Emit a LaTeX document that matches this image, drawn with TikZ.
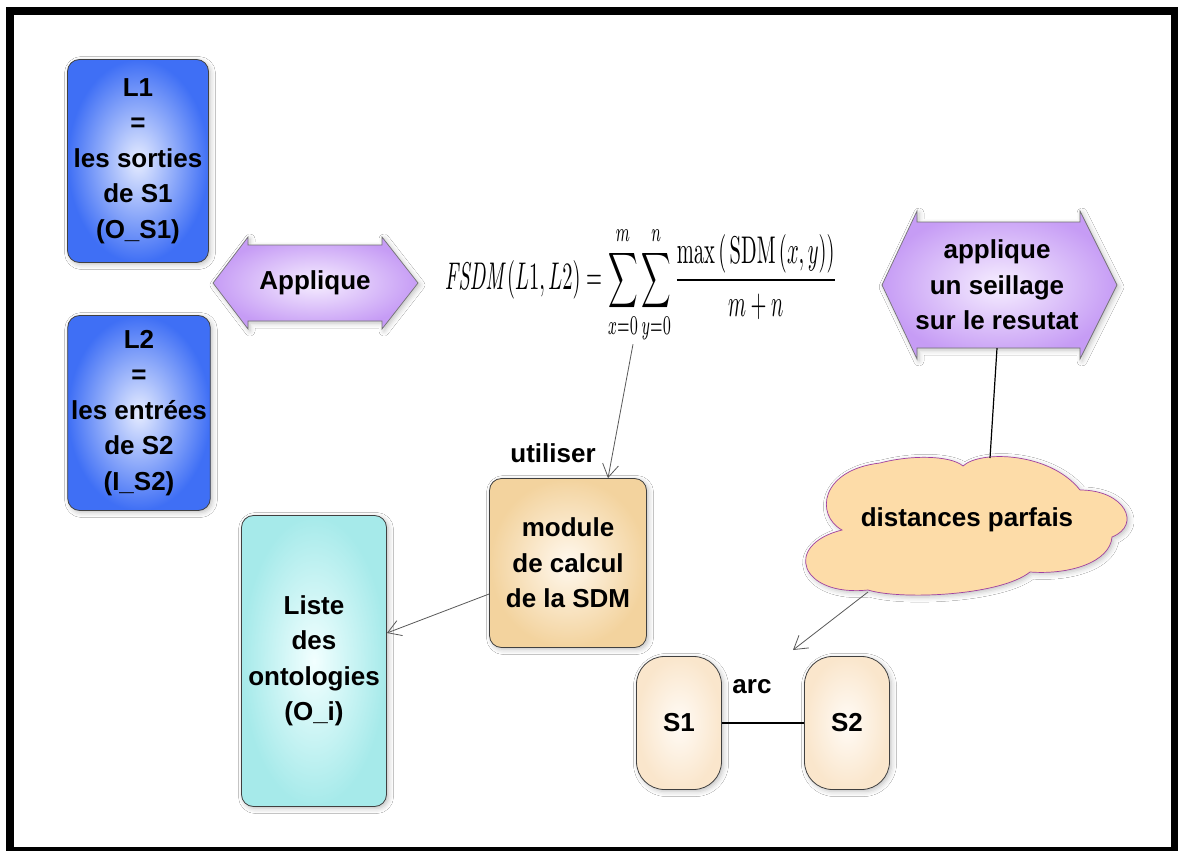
\documentclass[tikz,border=0pt]{standalone}
\usepackage[no-math]{fontspec}
\setmainfont{Liberation Sans}
\usepackage{amsmath}
\usepackage{graphicx}
\usetikzlibrary{shapes.symbols,arrows.meta,calc,shadows.blur}
\definecolor{blueout}{HTML}{3F6FF5}
\definecolor{bluein}{HTML}{E6ECFF}
\definecolor{purpout}{HTML}{C69CF5}
\definecolor{purpin}{HTML}{F6EEFF}
\definecolor{modout}{HTML}{F3D39E}
\definecolor{modin}{HTML}{FFF8EE}
\definecolor{cyanout}{HTML}{A6EAEA}
\definecolor{cyanin}{HTML}{F2FFFF}
\definecolor{sout}{HTML}{FAE6CC}
\definecolor{sin}{HTML}{FFFBF6}
\definecolor{cloudfill}{HTML}{FDDCA8}
\definecolor{cloudline}{HTML}{A040A0}
\tikzset{
  lbl/.style={font=\bfseries\fontsize{26}{35.5}\selectfont, align=center, text=black},
  softshadow/.style={blur shadow={shadow xshift=2pt, shadow yshift=-2pt, shadow blur radius=5pt, shadow opacity=25}},
  boxbase/.style={lbl, draw=black!75, line width=0.8pt, rounded corners=12pt, shading=radial, softshadow},
  bluebox/.style={boxbase, inner color=bluein, outer color=blueout},
  modbox/.style={boxbase, inner color=modin, outer color=modout},
  cyanbox/.style={boxbase, inner color=cyanin, outer color=cyanout},
  sbox/.style={boxbase, rounded corners=28pt, inner color=sin, outer color=sout, minimum width=85pt, minimum height=133pt},
  hexshape/.style={draw=black!55, line width=0.7pt, shading=radial, inner color=purpin, outer color=purpout},
  arr/.style={draw=black!65, line width=0.8pt, -{Straight Barb[length=13pt,width=16pt]}},
}
\begin{document}
\begin{tikzpicture}[x=1pt,y=-1pt]
\useasboundingbox (0,0) rectangle (1178,851);
\fill[white] (0,0) rectangle (1178,851);
% frame
\fill[black] (6,7) rectangle (1178,851);
\fill[white] (14,15) rectangle (1171,847);

% left column
\node[bluebox, minimum width=141pt, minimum height=203pt] (L1) at (138,161) {L1\\=\\les sorties\\de S1\\(O\_S1)};
\node[bluebox, minimum width=142pt, minimum height=195pt] (L2) at (139,413) {L2\\=\\les entr\'ees\\de S2\\(I\_S2)};

% Applique double arrow
\path[hexshape, softshadow] (213,283) -- (248,237) -- (248,245) -- (382,245) -- (382,237) -- (418,283)
  -- (382,329) -- (382,321) -- (248,321) -- (248,329) -- cycle;
\node[lbl] (app) at (315,283) {Applique};

% formula
\node[inner sep=0pt] (fml) at (641,285) {\resizebox*{392pt}{118pt}{$\displaystyle \mathit{FSDM}(L1,L2)=\sum_{x=0}^{m}\sum_{y=0}^{n}\frac{\max\left(\,\mathrm{SDM}\,(x,y)\right)}{m+n}$}};

% right double arrow
\path[hexshape, softshadow] (882,285) -- (917,211) -- (917,222) -- (1080,222) -- (1080,211) -- (1117,285)
  -- (1080,359) -- (1080,348) -- (917,348) -- (917,359) -- cycle;
\node[lbl, minimum height=126pt] (hexR) at (997,285) {applique\\un seillage\\sur le resutat};

% cloud
\path[fill=cloudfill, draw=cloudline, line width=0.7pt, softshadow]
  (842,530) .. controls (815,515) and (820,470) .. (880,463)
  .. controls (910,455) and (950,455) .. (963,466)
  .. controls (980,450) and (1050,452) .. (1080,490)
  .. controls (1125,490) and (1142,525) .. (1112,537)
  .. controls (1110,562) and (1070,575) .. (1030,572)
  .. controls (1000,596) and (900,600) .. (868,590)
  .. controls (800,597) and (782,545) .. (842,530) -- cycle;
\node[lbl] (cloud) at (967,520) {distances parfais};
\coordinate (cloudtop) at (990,458);
\coordinate (cloudbot) at (868,592);
\coordinate (arctip) at (793,650);

% module & liste
\node[modbox, minimum width=157pt, minimum height=169pt] (module) at (568,563) {module\\de calcul\\de la SDM};
\node[cyanbox, minimum width=145pt, minimum height=291pt] (liste) at (314,661) {Liste\\des\\ontologies\\(O\_i)};
\node[lbl] (util) at (553,453) {utiliser};

% S1 S2
\node[sbox] (S1) at (679,723) {S1};
\node[sbox] (S2) at (847,723) {S2};
\node[lbl] (arc) at (752,687) {arc};

% connectors
\draw[arr] ([xshift=-8pt]fml.south) -- ([xshift=40pt]module.north);
\draw[arr] ([yshift=-31pt]module.west) -- ([yshift=28pt]liste.east);
\draw[black, line width=1.2pt] (hexR.south) -- (cloudtop);
\draw[arr] (cloudbot) -- (arctip);
\draw[black, line width=1.4pt] (S1.east) -- (S2.west);
\end{tikzpicture}
\end{document}
